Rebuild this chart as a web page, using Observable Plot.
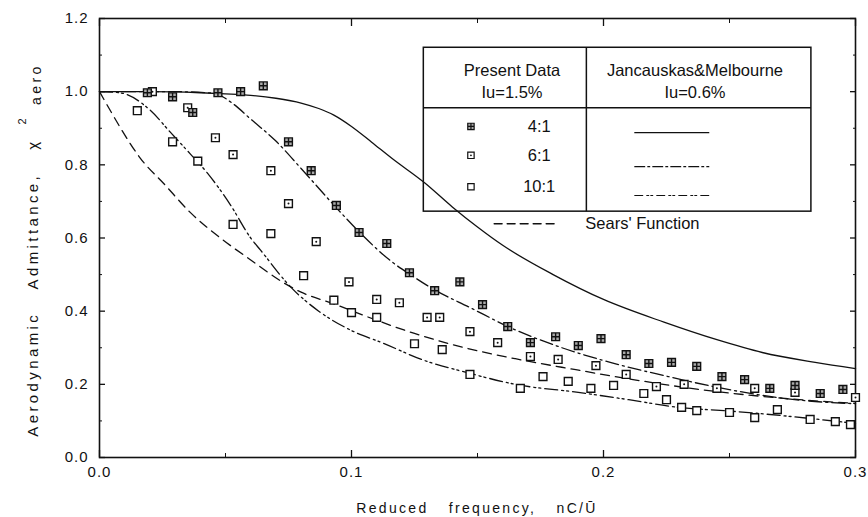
<!DOCTYPE html>
<html><head><meta charset="utf-8">
<script src="https://cdn.jsdelivr.net/npm/d3@7"></script>
<script src="https://cdn.jsdelivr.net/npm/@observablehq/plot@0.6"></script>
<style>
body{margin:0;background:#fff;}
#chart{width:868px;height:517px;}
</style></head><body><div id="chart"></div>
<script>
// ---- Data ----
// Jancauskas & Melbourne curves, Iu = 0.6 %
const jm41 = [[0,1.0],[0.02,1.0],[0.04,0.997],[0.05,0.994],[0.06,0.99],[0.07,0.982],[0.08,0.969],[0.087,0.954],[0.093,0.936],[0.1,0.905],[0.108,0.862],[0.116,0.818],[0.129,0.751],[0.14,0.685],[0.15,0.63],[0.16,0.58],[0.18,0.5],[0.2,0.432],[0.224,0.37],[0.245,0.322],[0.263,0.287],[0.284,0.26],[0.3,0.243]];
const jm61 = [[0,1.0],[0.03,1.0],[0.045,0.996],[0.053,0.967],[0.06,0.925],[0.07,0.865],[0.08,0.79],[0.093,0.69],[0.104,0.61],[0.116,0.535],[0.124,0.497],[0.133,0.458],[0.147,0.41],[0.163,0.355],[0.181,0.306],[0.2,0.265],[0.224,0.224],[0.245,0.192],[0.263,0.17],[0.279,0.156],[0.3,0.147]];
const jm101 = [[0,1.0],[0.008,0.997],[0.02,0.95],[0.028,0.89],[0.036,0.83],[0.043,0.776],[0.052,0.69],[0.06,0.6],[0.064,0.566],[0.076,0.465],[0.087,0.4],[0.1,0.347],[0.112,0.314],[0.129,0.265],[0.147,0.23],[0.165,0.2],[0.19,0.178],[0.21,0.158],[0.23,0.137],[0.25,0.127],[0.27,0.115],[0.3,0.093]];
const sears = [[0,1.0],[0.005,0.94],[0.0084,0.9],[0.016,0.82],[0.026,0.745],[0.036,0.67],[0.048,0.6],[0.06,0.54],[0.073,0.478],[0.08,0.452],[0.093,0.42],[0.105,0.388],[0.125,0.339],[0.145,0.3],[0.165,0.27],[0.189,0.24],[0.21,0.215],[0.237,0.187],[0.263,0.167],[0.29,0.152],[0.3,0.148]];
// Present data, Iu = 1.5 %
const p41 = [[0.019,0.997],[0.029,0.986],[0.037,0.943],[0.047,0.997],[0.056,1.0],[0.065,1.016],[0.075,0.863],[0.084,0.784],[0.094,0.689],[0.103,0.615],[0.114,0.585],[0.123,0.505],[0.133,0.456],[0.143,0.48],[0.152,0.418],[0.162,0.358],[0.171,0.314],[0.181,0.33],[0.19,0.306],[0.199,0.325],[0.209,0.281],[0.218,0.257],[0.227,0.26],[0.237,0.249],[0.247,0.221],[0.256,0.213],[0.266,0.189],[0.276,0.197],[0.286,0.175],[0.295,0.186]];
const p61 = [[0.021,1.0],[0.035,0.956],[0.046,0.874],[0.053,0.828],[0.068,0.784],[0.075,0.694],[0.086,0.59],[0.099,0.48],[0.11,0.432],[0.119,0.423],[0.13,0.383],[0.135,0.383],[0.147,0.344],[0.158,0.314],[0.171,0.276],[0.182,0.268],[0.197,0.251],[0.209,0.227],[0.221,0.194],[0.232,0.2],[0.245,0.189],[0.26,0.189],[0.276,0.178],[0.3,0.164]];
const p101 = [[0.015,0.948],[0.029,0.863],[0.039,0.81],[0.053,0.637],[0.068,0.612],[0.081,0.497],[0.093,0.43],[0.1,0.396],[0.11,0.383],[0.125,0.311],[0.136,0.295],[0.147,0.227],[0.167,0.189],[0.176,0.221],[0.186,0.208],[0.195,0.189],[0.204,0.197],[0.216,0.175],[0.225,0.158],[0.231,0.137],[0.237,0.128],[0.25,0.123],[0.26,0.109],[0.269,0.131],[0.282,0.104],[0.292,0.098],[0.298,0.09]];
// Ticks
const xMajor = [0, 0.1, 0.2, 0.3];
const xMinor = [0.05, 0.15, 0.25];
const yMajor = [0, 0.2, 0.4, 0.6, 0.8, 1.0, 1.2];
const yMinor = [0.1, 0.3, 0.5, 0.7, 0.9, 1.1];
// Text
const xTitle = "Reduced  frequency,  nC/Ū";
const yTitleMain = "Aerodynamic  Admittance,  χ";
const yTitleSup = "2";
const yTitleSub = "aero";
const legendHead = ["Present Data", "Iu=1.5%", "Jancauskas&Melbourne", "Iu=0.6%"];
const legendRows = ["4:1", "6:1", "10:1"];
const searsLabel = "Sears' Function";

// ---- Legend layout (data units) ----
const L = {x1: 0.1287, x2: 0.2825, xd: 0.1932, y1: 0.672, y2: 1.12, ym: 0.956,
  headL: 0.1637, headR: 0.2363, headY1: 1.056, headY2: 0.998,
  mx: 0.1474, tx: 0.1745, rowY: [0.905, 0.826, 0.74], lineY: [0.888, 0.795, 0.716],
  lx1: 0.2124, lx2: 0.2418, sx1: 0.1566, sx2: 0.1817, sy: 0.639, stx: 0.1928};

// ---- Symbols ----
const sq = (ctx, s) => {ctx.moveTo(-s,-s);ctx.lineTo(s,-s);ctx.lineTo(s,s);ctx.lineTo(-s,s);ctx.closePath();};
const symSquare = {draw(ctx, size){ sq(ctx, Math.sqrt(size)/2); }};
const symGrid = {draw(ctx, size){ const s = Math.sqrt(size)/2; sq(ctx, s); ctx.moveTo(-s,0);ctx.lineTo(s,0);ctx.moveTo(0,-s);ctx.lineTo(0,s); }};

const dashDot = "13,4,2,4";
const dashDotDot = "13,4,2,3,2,4";
const dashed = "9,6";
const lineStyle = {x: d => d[0], y: d => d[1], stroke: "#111", strokeWidth: 1.3, curve: "monotone-x"};
const R = 4.4;
const dotStyle = {x: d => d[0], y: d => d[1], r: R, stroke: "#111", strokeWidth: 1.4, fill: "white"};
const rowData = (i) => [[L.mx, L.rowY[i]]];
const seg = (y) => [[L.lx1, y], [L.lx2, y]];
const blank = () => "";
const LF = 16.5;

const chart = Plot.plot({
  width: 868, height: 517,
  marginLeft: 99, marginRight: 13, marginTop: 18, marginBottom: 60,
  x: {domain: [0, 0.3]},
  y: {domain: [0, 1.2]},
  style: {fontFamily: "'Liberation Sans', Arial, sans-serif", fontSize: "15px", color: "#111", background: "white"},
  marks: [
    Plot.axisY({ticks: yMajor, tickSize: -6, tickPadding: 17, tickFormat: d3.format(".1f"), label: null, strokeWidth: 1.3}),
    Plot.axisY({ticks: yMinor, tickSize: -3, tickFormat: blank, label: null}),
    Plot.axisY({anchor: "right", ticks: yMajor, tickSize: -6, tickFormat: blank, label: null, strokeWidth: 1.3}),
    Plot.axisY({anchor: "right", ticks: yMinor, tickSize: -3, tickFormat: blank, label: null}),
    Plot.axisX({ticks: xMajor, tickSize: -7, tickPadding: 16, tickFormat: d3.format(".1f"), label: null, strokeWidth: 1.3}),
    Plot.axisX({ticks: xMinor, tickSize: -4, tickFormat: blank, label: null}),
    Plot.axisX({anchor: "top", ticks: xMajor, tickSize: -7, tickFormat: blank, label: null, strokeWidth: 1.3}),
    Plot.axisX({anchor: "top", ticks: xMinor, tickSize: -4, tickFormat: blank, label: null}),
    Plot.frame({stroke: "#111", strokeWidth: 1.6}),
    // curves
    Plot.line(sears, {...lineStyle, strokeDasharray: dashed}),
    Plot.line(jm41, lineStyle),
    Plot.line(jm61, {...lineStyle, strokeDasharray: dashDot}),
    Plot.line(jm101, {...lineStyle, strokeDasharray: dashDotDot}),
    // legend box (transparent: the curve shows through)
    Plot.rect([0], {x1: L.x1, x2: L.x2, y1: L.y1, y2: L.y2, fill: "none", stroke: "#111", strokeWidth: 1.5}),
    Plot.ruleX([L.xd], {y1: L.y1, y2: L.y2, stroke: "#111", strokeWidth: 1.5}),
    Plot.ruleY([L.ym], {x1: L.x1, x2: L.x2, stroke: "#111", strokeWidth: 1.5}),
    Plot.text([legendHead[0]], {x: L.headL, y: L.headY1, text: d => d, fontSize: LF}),
    Plot.text([legendHead[1]], {x: L.headL, y: L.headY2, text: d => d, fontSize: LF}),
    Plot.text([legendHead[2]], {x: L.headR, y: L.headY1, text: d => d, fontSize: LF}),
    Plot.text([legendHead[3]], {x: L.headR, y: L.headY2, text: d => d, fontSize: LF}),
    Plot.text(legendRows, {x: L.tx, y: (d, i) => L.rowY[i], text: d => d, fontSize: LF}),
    Plot.dot(rowData(0), {...dotStyle, r: 3.6, symbol: symGrid, strokeWidth: 1.2, fill: "#aaa"}),
    Plot.dot(rowData(1), {...dotStyle, r: 3.6, symbol: symSquare, strokeWidth: 1.2}),
    Plot.dot(rowData(1), {x: d => d[0], y: d => d[1], r: 0.9, fill: "#111"}),
    Plot.dot(rowData(2), {...dotStyle, r: 3.6, symbol: symSquare, strokeWidth: 1.2}),
    Plot.line(seg(L.lineY[0]), {...lineStyle, strokeWidth: 1.1}),
    Plot.line(seg(L.lineY[1]), {...lineStyle, strokeWidth: 1.1, strokeDasharray: "10,3,2,3"}),
    Plot.line(seg(L.lineY[2]), {...lineStyle, strokeWidth: 1.1, strokeDasharray: "8,4,2,2,2,4"}),
    Plot.line([[L.sx1, L.sy], [L.sx2, L.sy]], {...lineStyle, strokeDasharray: "8,5"}),
    Plot.text([searsLabel], {x: L.stx, y: L.sy, text: d => d, textAnchor: "start", fontSize: LF}),
    // data points
    Plot.dot(p101, {...dotStyle, symbol: symSquare}),
    Plot.dot(p61, {...dotStyle, symbol: symSquare}),
    Plot.dot(p61, {x: d => d[0], y: d => d[1], r: 1, fill: "#111"}),
    Plot.dot(p41, {...dotStyle, symbol: symGrid, fill: "#aaa"})
  ]
});

const svg = d3.select(chart);
svg.selectAll("[aria-label='y-axis tick label'] text, [aria-label='x-axis tick label'] text").style("letter-spacing", "1px");
// axis titles
svg.append("text")
  .attr("x", 477).attr("y", 513)
  .attr("text-anchor", "middle")
  .style("font-family", "'Liberation Sans',Arial,sans-serif")
  .style("font-size", "14px").style("letter-spacing", "2.3px").style("word-spacing", "4px")
  .attr("fill", "#111")
  .text(xTitle);
const yt = svg.append("text")
  .attr("transform", "translate(38,250) rotate(-90)")
  .attr("text-anchor", "middle")
  .style("font-family", "'Liberation Sans',Arial,sans-serif")
  .style("font-size", "15px").style("letter-spacing", "3.4px").style("word-spacing", "4px")
  .attr("fill", "#111");
yt.append("tspan").text(yTitleMain);
yt.append("tspan").attr("dy", "-1.1em").attr("dx", "14").style("font-size", "11px").text(yTitleSup);
yt.append("tspan").attr("dy", "1.1em").attr("dx", "10").style("font-size", "14px").text(yTitleSub);

document.getElementById("chart").appendChild(chart);
</script></body></html>
